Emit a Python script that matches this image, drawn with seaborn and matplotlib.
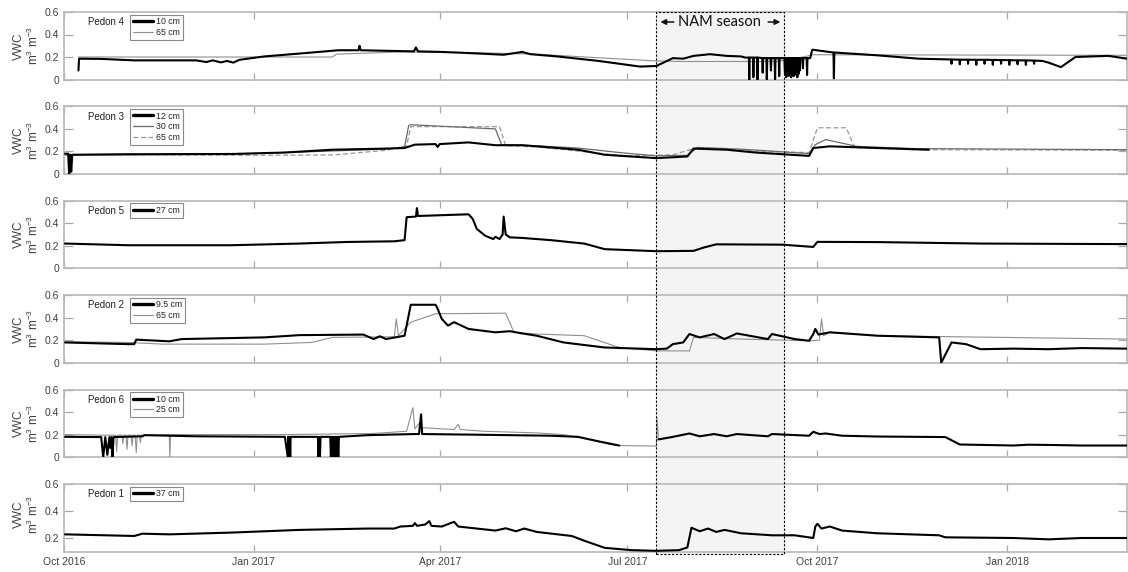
import numpy as np
import pandas as pd
import matplotlib
matplotlib.use("Agg")
import matplotlib.pyplot as plt
import matplotlib.dates as mdates
from matplotlib.patches import Rectangle, FancyArrowPatch
from matplotlib.transforms import blended_transform_factory
import seaborn as sns

# ---------------------------------------------------------------------------
# Time axis (day offsets are counted from 1 Oct 2016)
# ---------------------------------------------------------------------------
START = pd.Timestamp("2016-10-01")
END = pd.Timestamp("2018-02-28")
NAM_START = pd.Timestamp("2017-07-15")
NAM_END = pd.Timestamp("2017-09-15")
TICK_DATES = ["2016-10-01", "2017-01-01", "2017-04-01", "2017-07-01", "2017-10-01", "2018-01-01"]
TICK_LABELS = ["Oct 2016", "Jan 2017", "Apr 2017", "Jul 2017", "Oct 2017", "Jan 2018"]

# ---------------------------------------------------------------------------
# Volumetric water content series: (day offset, VWC m3 m-3)
# ---------------------------------------------------------------------------
PEDON4_10CM = [(7.0, 0.08), (7.3, 0.185), (18, 0.183), (34, 0.17), (64, 0.17), (69, 0.155), (72, 0.17),
               (76, 0.152), (79, 0.165), (82, 0.15), (85, 0.175), (97, 0.205), (117, 0.235), (133, 0.26),
               (142.7, 0.26), (143.2, 0.30), (143.7, 0.26), (156, 0.255), (169.5, 0.25), (170.5, 0.285),
               (171.5, 0.25), (183, 0.245), (196, 0.235), (213, 0.22), (222, 0.245), (226, 0.225),
               (239, 0.205), (259, 0.165), (279, 0.115), (287, 0.12), (295, 0.19), (300, 0.185),
               (305, 0.21), (313, 0.225), (321, 0.21), (328, 0.205),
               (330, 0.195), (331.8, 0.195), (332, 0.0), (332.2, 0.195), (333.8, 0.195), (334, 0.02),
               (334.2, 0.195), (335.8, 0.195), (336, 0.0), (336.2, 0.195), (338.3, 0.19), (338.5, 0.06),
               (338.7, 0.19), (340.3, 0.19), (340.5, 0.0), (340.7, 0.19), (342.3, 0.19), (342.5, 0.08),
               (342.7, 0.19), (344.3, 0.19), (344.5, 0.0), (344.7, 0.19), (346.3, 0.19), (346.5, 0.03),
               (346.7, 0.19), (349, 0.19), (349.3, 0.05), (349.6, 0.19), (349.9, 0.02), (350.2, 0.19),
               (350.5, 0.06), (350.8, 0.19), (351.1, 0.03), (351.4, 0.19), (351.7, 0.04), (352, 0.19),
               (352.3, 0.02), (352.6, 0.19), (352.9, 0.05), (353.2, 0.19), (353.5, 0.03), (353.8, 0.19),
               (354.1, 0.06), (354.4, 0.19), (354.7, 0.04), (355, 0.19), (355.3, 0.02), (355.6, 0.19),
               (355.9, 0.05), (356.2, 0.19), (356.5, 0.08), (356.8, 0.19), (357.8, 0.19), (358, 0.1),
               (358.2, 0.19), (359.8, 0.19), (360, 0.04), (360.2, 0.19), (361.5, 0.19), (362.5, 0.265),
               (371, 0.245), (372.8, 0.24), (373, 0.01), (373.2, 0.24), (394, 0.215), (414, 0.185),
               (427, 0.18), (429.8, 0.178), (430, 0.14), (430.2, 0.178), (433.8, 0.176), (434, 0.135),
               (434.2, 0.176), (437.8, 0.176), (438, 0.14), (438.2, 0.176), (441.8, 0.175), (442, 0.13),
               (442.2, 0.175), (445.8, 0.175), (446, 0.14), (446.2, 0.175), (449.8, 0.174), (450, 0.13),
               (450.2, 0.174), (453.8, 0.173), (454, 0.14), (454.2, 0.173), (457.8, 0.172), (458, 0.13),
               (458.2, 0.172), (461.8, 0.17), (462, 0.135), (462.2, 0.17), (465.8, 0.17), (466, 0.13),
               (466.2, 0.17), (469.8, 0.168), (470, 0.14), (470.2, 0.168), (474, 0.165), (477, 0.15),
               (483, 0.11), (490, 0.2), (506, 0.21), (515, 0.185)]
PEDON4_65CM = [(7, 0.2), (130, 0.2), (132, 0.225), (163, 0.245), (196, 0.24), (229, 0.225), (262, 0.19),
               (287, 0.165), (300, 0.16), (345, 0.16), (358, 0.2), (363, 0.22), (515, 0.215)]

PEDON3_12CM = [(0.5, 0.18), (2, 0.18), (2.5, 0.0), (3, 0.17), (3.5, 0.02), (4, 0.17), (31, 0.175),
               (81, 0.177), (107, 0.19), (130, 0.215), (156, 0.225), (165, 0.23), (170, 0.26),
               (180, 0.265), (181, 0.24), (182, 0.265), (196, 0.28), (209, 0.255), (222, 0.255),
               (229, 0.245), (249, 0.215), (262, 0.17), (287, 0.14), (302, 0.155), (305, 0.225),
               (321, 0.215), (335, 0.19), (361, 0.16), (363, 0.23), (371, 0.245), (394, 0.23),
               (419, 0.215)]
PEDON3_30CM = [(0.5, 0.17), (31, 0.17), (81, 0.175), (107, 0.19), (156, 0.22), (165, 0.24), (167, 0.43),
               (168, 0.437), (209, 0.40), (212, 0.26), (229, 0.25), (249, 0.23), (269, 0.19), (287, 0.16),
               (302, 0.165), (307, 0.235), (328, 0.22), (345, 0.2), (361, 0.18), (364, 0.26),
               (369, 0.305), (384, 0.245), (411, 0.225), (515, 0.215)]
PEDON3_65CM = [(0.5, 0.17), (2, 0.17), (2.5, 0.03), (3, 0.17), (31, 0.17), (90, 0.165), (130, 0.168),
               (156, 0.21), (166, 0.25), (168, 0.42), (211, 0.42), (214, 0.25), (229, 0.24), (272, 0.16),
               (295, 0.17), (307, 0.235), (338, 0.2), (361, 0.19), (365, 0.41), (379, 0.41),
               (383, 0.235), (411, 0.215), (515, 0.21)]

PEDON5_27CM = [(0.5, 0.22), (31, 0.205), (81, 0.205), (114, 0.22), (137, 0.234), (160, 0.24), (165, 0.25),
               (166, 0.454), (170.5, 0.46), (171, 0.535), (171.5, 0.465), (196, 0.48), (198, 0.44),
               (200, 0.35), (204, 0.29), (208, 0.26), (209, 0.28), (211, 0.26), (212.5, 0.3),
               (213, 0.46), (214, 0.3), (216, 0.275), (222, 0.27), (236, 0.25), (252, 0.22),
               (262, 0.17), (287, 0.152), (305, 0.155), (310, 0.185), (316, 0.213), (348, 0.21),
               (363, 0.19), (365, 0.235), (394, 0.233), (444, 0.22), (515, 0.215)]

PEDON2_9CM = [(0.5, 0.18), (31, 0.165), (34, 0.165), (35, 0.205), (51, 0.19), (57, 0.21), (97, 0.225),
              (114, 0.245), (145, 0.25), (150, 0.21), (153, 0.235), (156, 0.21), (165, 0.24),
              (168, 0.515), (180, 0.515), (181, 0.48), (183, 0.39), (186, 0.33), (189, 0.36),
              (196, 0.3), (209, 0.27), (216, 0.28), (222, 0.26), (229, 0.24), (242, 0.18), (262, 0.135),
              (287, 0.12), (292, 0.125), (295, 0.165), (300, 0.18), (303, 0.255), (308, 0.225),
              (315, 0.255), (320, 0.21), (326, 0.26), (341, 0.21), (343, 0.255), (354, 0.21),
              (361, 0.195), (363, 0.255), (364, 0.3), (365.5, 0.25), (371, 0.27), (394, 0.24),
              (424, 0.225), (425, 0.0), (430, 0.18), (437, 0.165), (444, 0.12), (460, 0.125),
              (477, 0.12), (493, 0.13), (515, 0.125)]
PEDON2_65CM = [(0.5, 0.186), (31, 0.18), (48, 0.165), (97, 0.165), (120, 0.18), (130, 0.225), (160, 0.23),
               (161, 0.39), (162, 0.24), (168, 0.36), (180, 0.435), (214, 0.44), (218, 0.27),
               (229, 0.255), (252, 0.24), (269, 0.135), (287, 0.105), (303, 0.105), (305, 0.225),
               (328, 0.21), (361, 0.195), (366, 0.2), (367, 0.39), (368, 0.24), (371, 0.27),
               (394, 0.24), (515, 0.21)]

PEDON6_10CM_A = [(0.5, 0.18), (18, 0.178), (19, 0.0), (20, 0.178), (21, 0.02), (22, 0.178), (22.5, 0.08),
                 (23, 0.178), (23.5, 0.0), (24, 0.178), (38, 0.185), (39, 0.195), (64, 0.185),
                 (107, 0.18), (108.4, 0.0), (108.6, 0.18), (108.8, 0.0), (109, 0.18), (109.2, 0.0),
                 (109.4, 0.18), (109.6, 0.0), (109.8, 0.18), (123, 0.18), (123.3, 0.0), (123.6, 0.18),
                 (124, 0.0), (124.3, 0.18), (129, 0.18), (129.3, 0.0), (129.6, 0.18), (129.9, 0.0),
                 (130.2, 0.18), (130.5, 0.0), (130.8, 0.18), (131.1, 0.0), (131.4, 0.18), (131.7, 0.0),
                 (132, 0.18), (132.3, 0.0), (132.6, 0.18), (132.9, 0.0), (133.2, 0.18), (147, 0.195),
                 (170, 0.205), (172, 0.205), (173, 0.38), (173.5, 0.205), (196, 0.2), (216, 0.195),
                 (236, 0.19), (249, 0.18), (259, 0.14), (269, 0.103)]
PEDON6_10CM_B = [(288, 0.157), (295, 0.18), (303, 0.21), (308, 0.185), (315, 0.205), (321, 0.185),
                 (326, 0.205), (341, 0.185), (343, 0.205), (361, 0.19), (363, 0.225), (366, 0.205),
                 (369, 0.21), (377, 0.19), (394, 0.183), (427, 0.178), (434, 0.112), (460, 0.103),
                 (467, 0.11), (477, 0.108), (493, 0.103), (515, 0.103)]
PEDON6_25CM = [(0.5, 0.2), (18, 0.195), (25, 0.195), (25.5, 0.05), (26, 0.195), (28, 0.195), (28.5, 0.12),
               (29, 0.195), (30, 0.195), (30.5, 0.07), (31, 0.195), (32.5, 0.195), (33, 0.1),
               (33.5, 0.195), (34.5, 0.195), (35, 0.04), (35.5, 0.195), (36.5, 0.195), (37, 0.13),
               (37.5, 0.195), (38, 0.195), (51, 0.2), (51.3, 0.0), (51.6, 0.2), (107, 0.2),
               (150, 0.21), (166, 0.23), (169, 0.44), (170, 0.25), (172, 0.3), (173, 0.26), (175, 0.26),
               (189, 0.245), (191, 0.29), (192, 0.245), (203, 0.23), (229, 0.215), (242, 0.2),
               (255, 0.155), (267, 0.103), (287, 0.098), (287.3, 0.35), (288, 0.157)]

PEDON1_37CM = [(0.5, 0.227), (34, 0.215), (38, 0.232), (51, 0.227), (81, 0.24), (114, 0.26), (147, 0.27),
               (160, 0.27), (163, 0.285), (169, 0.29), (170, 0.31), (171, 0.29), (175, 0.3), (177, 0.325),
               (178, 0.29), (183, 0.285), (189, 0.32), (191, 0.285), (209, 0.255), (214, 0.272),
               (219, 0.25), (223, 0.27), (229, 0.245), (246, 0.215), (252, 0.18), (262, 0.127),
               (275, 0.11), (287, 0.105), (298, 0.11), (302, 0.13), (304, 0.276), (308, 0.25),
               (312, 0.27), (316, 0.245), (320, 0.26), (328, 0.235), (343, 0.22), (354, 0.22),
               (363, 0.2), (364, 0.285), (365, 0.305), (367, 0.27), (371, 0.285), (377, 0.255),
               (394, 0.235), (424, 0.22), (427, 0.205), (460, 0.2), (477, 0.19), (493, 0.2), (515, 0.2)]

# line styles per sensor kind
STYLES = {
    "thick": dict(color="black", linewidth=1.5, zorder=4),
    "thin": dict(color="#8f8f8f", linewidth=0.8, zorder=3),
    "mid": dict(color="#6a6a6a", linewidth=0.9, zorder=3),
    "dash": dict(color="#9a9a9a", linewidth=0.9, linestyle=(0, (4, 2)), zorder=2),
}

PANELS = [
    ("Pedon 4", [(PEDON4_10CM, "10 cm", "thick"), (PEDON4_65CM, "65 cm", "thin")]),
    ("Pedon 3", [(PEDON3_12CM, "12 cm", "thick"), (PEDON3_30CM, "30 cm", "mid"),
                 (PEDON3_65CM, "65 cm", "dash")]),
    ("Pedon 5", [(PEDON5_27CM, "27 cm", "thick")]),
    ("Pedon 2", [(PEDON2_9CM, "9.5 cm", "thick"), (PEDON2_65CM, "65 cm", "thin")]),
    ("Pedon 6", [(PEDON6_10CM_A, "10 cm", "thick"), (PEDON6_10CM_B, None, "thick"),
                 (PEDON6_25CM, "25 cm", "thin")]),
    ("Pedon 1", [(PEDON1_37CM, "37 cm", "thick")]),
]

sns.set_style("ticks")
plt.rcParams["font.family"] = ["Liberation Sans", "DejaVu Sans"]
plt.rcParams["mathtext.fontset"] = "custom"
plt.rcParams["mathtext.rm"] = "Liberation Sans"
plt.rcParams["mathtext.it"] = "Liberation Sans:italic"

W, H = 1128, 572
fig = plt.figure(figsize=(W / 100, H / 100), dpi=100)
fig.patch.set_facecolor("white")

AX_LEFT, AX_RIGHT = 64, 1127
PANEL_TOP0, PANEL_STEP, PANEL_H = 12, 94.4, 67.5
GREY_AXIS = "#b8b8b8"
TEXT_C = "#404040"

axes = []
for i, (name, series) in enumerate(PANELS):
    top = PANEL_TOP0 + PANEL_STEP * i
    ax = fig.add_axes([AX_LEFT / W, 1 - (top + PANEL_H) / H,
                       (AX_RIGHT - AX_LEFT) / W, PANEL_H / H])
    ax.set_facecolor("none")
    axes.append(ax)

    handles = []
    for pts, label, kind in series:
        arr = np.asarray(pts, dtype=float)
        dates = START + pd.to_timedelta(arr[:, 0], unit="D")
        sns.lineplot(x=dates, y=arr[:, 1], ax=ax, estimator=None, sort=False,
                     legend=False, **STYLES[kind])
        if label is not None:
            h = plt.Line2D([], [], **{k: v for k, v in STYLES[kind].items() if k != "zorder"})
            if kind == "thick":
                h.set_linewidth(2.4)
            h.set_label(label)
            handles.append(h)

    ax.set_xlim(START, END)
    last = i == len(PANELS) - 1
    if last:
        ax.set_ylim(0.1, 0.6)
        ax.set_yticks([0.2, 0.4, 0.6])
        ax.set_yticklabels(["0.2", "0.4", "0.6"])
    else:
        ax.set_ylim(0, 0.6)
        ax.set_yticks([0, 0.2, 0.4, 0.6])
        ax.set_yticklabels(["0", "0.2", "0.4", "0.6"])

    ax.set_xticks(pd.to_datetime(TICK_DATES))
    if last:
        ax.set_xticklabels(TICK_LABELS)
    else:
        ax.set_xticklabels([])
    ax.set_xlabel("")

    ax.tick_params(axis="both", direction="in", top=True, right=True, color="#a8a8a8",
                   width=0.9, labelsize=7.5, labelcolor=TEXT_C)
    ax.tick_params(axis="x", length=5, pad=4)
    ax.tick_params(axis="y", length=6.5, pad=3.5)
    for sp in ax.spines.values():
        sp.set_visible(True)
        sp.set_color(GREY_AXIS)
        sp.set_linewidth(1.2)

    ax.set_ylabel("VWC\nm$^{3}$ m$^{-3}$", fontsize=8.5, color=TEXT_C, linespacing=1.0)
    ax.yaxis.set_label_coords(-0.022, 0.5 if not last else 0.55)

    ax.text(0.0226, 0.85, name, transform=ax.transAxes, fontsize=7, color="#222222",
            va="center", ha="left")
    leg = ax.legend(handles=handles, loc="upper left",
                    bbox_to_anchor=((130 - AX_LEFT) / (AX_RIGHT - AX_LEFT), 1 - 2.5 / PANEL_H),
                    borderaxespad=0, fontsize=6.3, handlelength=2.3, handletextpad=0.4,
                    borderpad=0.3, labelspacing=0.2, frameon=True, fancybox=False,
                    framealpha=1, edgecolor="#8a8a8a")
    leg.get_frame().set_linewidth(0.8)
    for t in leg.get_texts():
        t.set_color("#222222")

# NAM season band across all panels
bottom_ax = axes[-1]
trans = blended_transform_factory(bottom_ax.transData, fig.transFigure)
x0 = mdates.date2num(NAM_START)
x1 = mdates.date2num(NAM_END)
y0 = 1 - 554 / H
y1 = 1 - 12 / H
fig.add_artist(Rectangle((x0, y0), x1 - x0, y1 - y0, transform=trans, facecolor="#f4f4f4",
                         edgecolor="none", zorder=-1))
fig.add_artist(Rectangle((x0, y0), x1 - x0, y1 - y0, transform=trans, facecolor="none",
                         edgecolor="black", linewidth=0.8, linestyle=(0, (2, 1.5)), zorder=10))

ty = 1 - 22 / H
fig.text(mdates.date2num(NAM_START + pd.Timedelta(days=30.5)), ty, "NAM season", transform=trans,
         ha="center", va="center", fontsize=10.5, family=["Lato", "DejaVu Sans"], color="#111111",
         zorder=11)
for a, b in [(x0 + 9.8, x0 + 0.6), (x1 - 9.2, x1 - 0.6)]:
    fig.add_artist(FancyArrowPatch((a, ty), (b, ty), transform=trans, arrowstyle="-|>",
                                   mutation_scale=8, linewidth=1.1, color="#111111", zorder=11))

fig.savefig("out.png", dpi=100)
